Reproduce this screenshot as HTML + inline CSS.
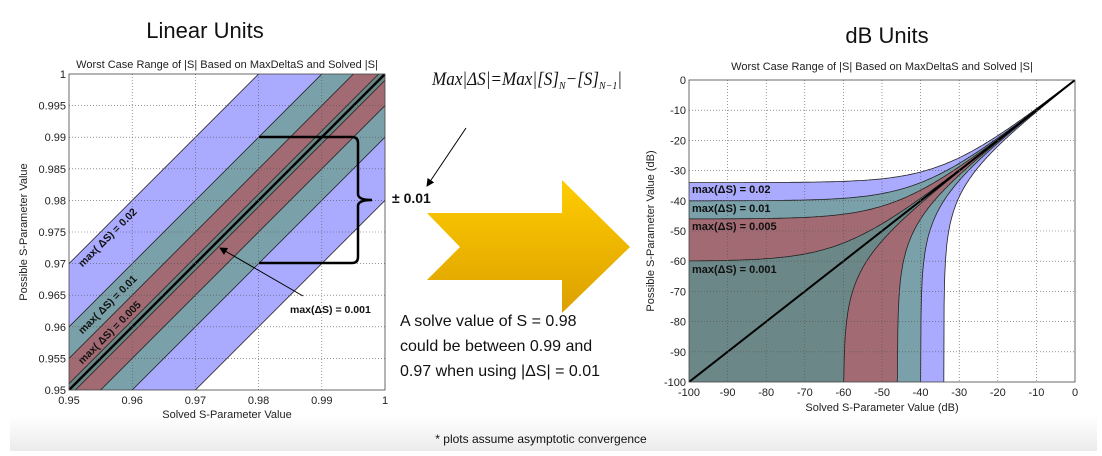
<!DOCTYPE html>
<html><head><meta charset="utf-8"><style>
html,body{margin:0;background:#fff;width:1102px;height:456px;overflow:hidden;font-family:"Liberation Sans",sans-serif}
svg{position:absolute;left:0;top:0;display:block}
</style></head><body>
<svg id="s" width="1102" height="456" viewBox="0 0 1102 456" font-family="Liberation Sans, sans-serif">
<defs>
<linearGradient id="ft" x1="0" y1="0" x2="0" y2="1"><stop offset="0" stop-color="#fff"/><stop offset="1" stop-color="#ebebeb"/></linearGradient>
<linearGradient id="ar" x1="0" y1="0" x2="0" y2="1"><stop offset="0" stop-color="#ffcc00"/><stop offset="1" stop-color="#dca000"/></linearGradient>
<clipPath id="cl"><rect x="69" y="74" width="316" height="316"/></clipPath>
<clipPath id="cr"><rect x="689" y="80" width="386" height="302"/></clipPath>
<marker id="ah" markerWidth="8" markerHeight="8" refX="7" refY="4" orient="auto"><path d="M0,0 L8,4 L0,8 z" fill="#000"/></marker>
</defs>
<rect x="10" y="415" width="1087" height="36" fill="url(#ft)"/>
<text x="541" y="443" font-size="12" text-anchor="middle" fill="#111">* plots assume asymptotic convergence</text>
<text x="205" y="38" font-size="22" text-anchor="middle" fill="#111">Linear Units</text>
<text x="887" y="43" font-size="22" text-anchor="middle" fill="#111">dB Units</text>
<g id="L"></g><g id="R"></g>
<text x="432" y="85" font-family="Liberation Serif, serif" font-size="19" font-style="italic" fill="#111" textLength="190" lengthAdjust="spacingAndGlyphs">Max|ΔS|=Max|[S]<tspan font-size="11" dy="4">N</tspan><tspan dy="-4">−[S]</tspan><tspan font-size="11" dy="4">N−1</tspan><tspan dy="-4">|</tspan></text>
<line x1="466" y1="128" x2="427" y2="186" stroke="#000" stroke-width="1" marker-end="url(#ah)"/>
<text x="392" y="203" font-size="14" font-weight="bold" fill="#111">± 0.01</text>
<path d="M427,213 L562,213 L562,180 L630,247 L562,313 L562,280 L427,280 L460,247 z" fill="url(#ar)"/>
<text font-size="16" fill="#111"><tspan x="400" y="326">A solve value of S = 0.98</tspan><tspan x="400" y="351">could be between 0.99 and</tspan><tspan x="400" y="376">0.97 when using |ΔS| = 0.01</tspan></text>
</svg>
<script>
var NS="http://www.w3.org/2000/svg";
function el(p,t,a,txt){var e=document.createElementNS(NS,t);for(var k in a)e.setAttribute(k,a[k]);if(txt!=null)e.textContent=txt;p.appendChild(e);return e;}
var cols={0.02:"#aaaaff",0.01:"#7aa0a9",0.005:"#a26a72",0.001:"#6c8787"};
var L=document.getElementById("L");
var x0=69,y0=390,W=316;
function X(v){return x0+(v-0.95)/0.05*W;} function Y(v){return y0-(v-0.95)/0.05*W;}
el(L,"rect",{x:69,y:74,width:316,height:316,fill:"#fff"});
var g=el(L,"g",{"clip-path":"url(#cl)"});
[0.02,0.01,0.005,0.001].forEach(function(d){
 el(g,"polygon",{points:[X(0.9),Y(0.9+d),X(1.05),Y(1.05+d),X(1.05),Y(1.05-d),X(0.9),Y(0.9-d)].join(" "),fill:cols[d],stroke:"#222","stroke-width":0.8});
});
el(g,"line",{x1:X(0.9),y1:Y(0.9),x2:X(1.05),y2:Y(1.05),stroke:"#000","stroke-width":2.5});
for(var i=1;i<5;i++){var xx=X(0.95+i*0.01);el(L,"line",{x1:xx,y1:74,x2:xx,y2:390,stroke:"#555","stroke-width":0.6,"stroke-dasharray":"1,2"});}
for(var i=1;i<10;i++){var yy=Y(0.95+i*0.005);el(L,"line",{x1:69,y1:yy,x2:385,y2:yy,stroke:"#555","stroke-width":0.6,"stroke-dasharray":"1,2"});}
el(L,"rect",{x:69,y:74,width:316,height:316,fill:"none",stroke:"#444","stroke-width":0.8});
var xl=["0.95","0.96","0.97","0.98","0.99","1"];
xl.forEach(function(t,i){el(L,"text",{x:X(0.95+i*0.01),y:404,"font-size":11,"text-anchor":"middle",fill:"#222"},t);});
var yl=["0.95","0.955","0.96","0.965","0.97","0.975","0.98","0.985","0.99","0.995","1"];
yl.forEach(function(t,i){el(L,"text",{x:66,y:Y(0.95+i*0.005)+4,"font-size":11,"text-anchor":"end",fill:"#222"},t);});
el(L,"text",{x:227,y:418,"font-size":11,"text-anchor":"middle",fill:"#222"},"Solved S-Parameter Value");
el(L,"text",{x:0,y:0,"font-size":11,"text-anchor":"middle",fill:"#222",transform:"translate(27,232) rotate(-90)"},"Possible S-Parameter Value");
el(L,"text",{x:227,y:68,"font-size":11,"text-anchor":"middle",fill:"#222"},"Worst Case Range of |S| Based on MaxDeltaS and Solved |S|");
[["max( ΔS) = 0.02",110,240],["max( ΔS) = 0.01",110,307],["max( ΔS) = 0.005",112,335]].forEach(function(a){
 el(L,"text",{x:0,y:0,"font-size":10.5,"font-weight":"bold","text-anchor":"middle",fill:"#111",transform:"translate("+a[1]+","+a[2]+") rotate(-45)"},a[0]);});
el(L,"text",{x:290,y:313,"font-size":10.5,"font-weight":"bold",fill:"#111"},"max(ΔS) = 0.001");
el(L,"line",{x1:303,y1:296,x2:220,y2:248,stroke:"#000","stroke-width":1,"marker-end":"url(#ah)"});
el(L,"path",{d:"M259,137 L352,137 Q358,137 358,143 L358,194 Q358,200 372,200 Q358,200 358,206 L358,257 Q358,263 352,263 L259,263",fill:"none",stroke:"#000","stroke-width":2.5});
var R=document.getElementById("R");
var rx0=689,rW=386,ry0=80,rH=302;
function RX(s){return rx0+(s+100)/100*rW;} function RY(s){return ry0-(s)/100*rH;}
el(R,"rect",{x:689,y:80,width:386,height:302,fill:"#fff"});
var gr=el(R,"g",{"clip-path":"url(#cr)"});
[0.02,0.01,0.005,0.001].forEach(function(d){
 var pts=[],s,a,v;
 for(s=-100;s<=0.001;s+=0.5){a=Math.pow(10,s/20);v=20*Math.log10(a+d);pts.push(RX(s).toFixed(1)+","+RY(v).toFixed(1));}
 for(s=0;s>=-100;s-=0.1){a=Math.pow(10,s/20);if(a-d<=1e-5){pts.push(RX(s).toFixed(1)+","+RY(-101).toFixed(1));break;}v=20*Math.log10(a-d);if(v<-101)v=-101;pts.push(RX(s).toFixed(1)+","+RY(v).toFixed(1));}
 pts.push(RX(-101)+","+RY(-101));
 el(gr,"polygon",{points:pts.join(" "),fill:cols[d],stroke:"#222","stroke-width":0.8});
});
el(gr,"line",{x1:RX(-100),y1:RY(-100),x2:RX(0),y2:RY(0),stroke:"#000","stroke-width":2});
for(var i=1;i<10;i++){var xx=RX(-100+i*10);el(R,"line",{x1:xx,y1:80,x2:xx,y2:382,stroke:"#555","stroke-width":0.6,"stroke-dasharray":"1,2"});
 var yy=RY(-i*10);el(R,"line",{x1:689,y1:yy,x2:1075,y2:yy,stroke:"#555","stroke-width":0.6,"stroke-dasharray":"1,2"});}
el(R,"rect",{x:689,y:80,width:386,height:302,fill:"none",stroke:"#444","stroke-width":0.8});
for(var i=0;i<=10;i++){var v=-100+i*10;el(R,"text",{x:RX(v),y:396,"font-size":11,"text-anchor":"middle",fill:"#222"},String(v));
 el(R,"text",{x:686,y:RY(v)+4,"font-size":11,"text-anchor":"end",fill:"#222"},String(v));}
el(R,"text",{x:882,y:411,"font-size":11,"text-anchor":"middle",fill:"#222"},"Solved S-Parameter Value (dB)");
el(R,"text",{x:0,y:0,"font-size":11,"text-anchor":"middle",fill:"#222",transform:"translate(654,231) rotate(-90)"},"Possible S-Parameter Value (dB)");
el(R,"text",{x:882,y:70,"font-size":11,"text-anchor":"middle",fill:"#222"},"Worst Case Range of |S| Based on MaxDeltaS and Solved |S|");
[["max(ΔS) = 0.02",193],["max(ΔS) = 0.01",212],["max(ΔS) = 0.005",230],["max(ΔS) = 0.001",273]].forEach(function(a){
 el(R,"text",{x:692,y:a[1],"font-size":11,"font-weight":"bold",fill:"#111"},a[0]);});
</script>
</body></html>
